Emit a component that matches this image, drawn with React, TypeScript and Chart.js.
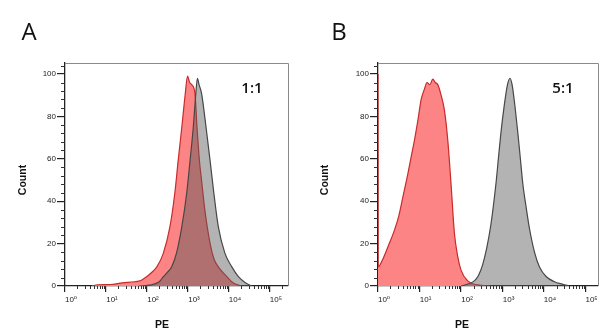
import React, { useEffect, useRef } from 'react';
import { Chart, registerables } from 'chart.js';

Chart.register(...registerables);

// ---- Axis ticks ----
const X_TICKS = [0, 1, 2, 3, 4, 5];
const X_TICK_LABELS = ['10⁰', '10¹', '10²', '10³', '10⁴', '10⁵'];
const X_MINOR_MULTIPLIERS = [2, 3, 4, 5, 6, 7, 8, 9];
const Y_TICKS = [0, 20, 40, 60, 80, 100];
const Y_MINOR_TICKS = [4, 8, 12, 16, 24, 28, 32, 36, 44, 48, 52, 56, 64, 68, 72, 76, 84, 88, 92, 96, 104];

// ---- Panel A (1:1) : x = log10(PE), y = Count ----
const A_GRAY_PE = [1.8, 2.1, 2.3, 2.4, 2.5, 2.6, 2.72, 2.85, 2.97, 3.05, 3.13, 3.18, 3.23, 3.27, 3.33, 3.44, 3.54, 3.63, 3.74, 3.9, 4.07, 4.23, 4.4, 4.55];
const A_GRAY_COUNT = [0, 0.5, 2, 4.4, 6.5, 9, 15.5, 28, 44, 59, 75, 88, 98, 95, 91, 75, 59, 44, 28, 15.5, 9, 4.4, 1.5, 0];
const A_RED_PE = [0.65, 0.8, 1.1, 1.4, 1.7, 1.85, 1.99, 2.12, 2.24, 2.4, 2.56, 2.68, 2.76, 2.85, 2.93, 2.99, 3.04, 3.09, 3.17, 3.22, 3.28, 3.33, 3.41, 3.54, 3.63, 3.74, 3.95, 4.1, 4.3];
const A_RED_COUNT = [0, 0.6, 0.7, 1.5, 2, 2.6, 4.4, 6.5, 9, 15.5, 28, 44, 59, 75, 90, 99, 96, 95, 91, 75, 59, 50, 36, 20, 13, 9, 4.4, 1.5, 0];

// ---- Panel B (5:1) ----
const B_GRAY_PE = [2.0, 2.15, 2.32, 2.42, 2.52, 2.62, 2.72, 2.84, 2.9, 2.96, 3.04, 3.12, 3.18, 3.23, 3.28, 3.37, 3.43, 3.49, 3.57, 3.65, 3.77, 3.89, 4.05, 4.25, 4.45, 4.6];
const B_GRAY_COUNT = [0, 0.8, 2.4, 5, 10, 18, 29, 48, 60, 72, 85, 95, 98, 95, 88, 72, 60, 48, 37, 27, 16, 9, 4.5, 2, 0.8, 0];
const B_RED_PE = [0, 0.005, 0.1, 0.25, 0.39, 0.5, 0.6, 0.72, 0.8, 0.88, 0.96, 1.04, 1.12, 1.18, 1.25, 1.32, 1.38, 1.44, 1.52, 1.6, 1.68, 1.76, 1.84, 1.92, 2.0, 2.16, 2.4, 2.7];
const B_RED_COUNT = [100, 9, 12, 19, 26, 33, 42, 53, 61, 69, 78, 88, 93, 96, 95, 97.6, 96, 95, 90, 83, 69, 48, 25, 14, 7.5, 2.4, 0.5, 0];

const FONT = "'Liberation Sans', 'DejaVu Sans', Arial, sans-serif";

type Panel = {
  letter: string;
  ratio: string;
  xMax: number;
  left: number;
  right: number;
  grayPE: number[];
  grayCount: number[];
  redPE: number[];
  redCount: number[];
};

const PANELS: Panel[] = [
  { letter: 'A', ratio: '1:1', xMax: 5.44, left: 65, right: 288, grayPE: A_GRAY_PE, grayCount: A_GRAY_COUNT, redPE: A_RED_PE, redCount: A_RED_COUNT },
  { letter: 'B', ratio: '5:1', xMax: 5.3, left: 78, right: 298, grayPE: B_GRAY_PE, grayCount: B_GRAY_COUNT, redPE: B_RED_PE, redCount: B_RED_COUNT },
];

const W = 300;
const H = 331;

function toPoints(xs: number[], ys: number[]) {
  return xs.map((x, i) => ({ x, y: ys[i] }));
}

function HistPanel({ panel }: { panel: Panel }) {
  const ref = useRef<HTMLCanvasElement | null>(null);
  useEffect(() => {
    if (!ref.current) return;
    const decor = {
      id: 'decor',
      afterDraw(chart: any) {
        const ctx = chart.ctx;
        const a = chart.chartArea;
        const xs = chart.scales.x;
        const ys = chart.scales.y;
        ctx.save();
        // box top + right
        ctx.strokeStyle = '#8a8a8a';
        ctx.lineWidth = 1;
        ctx.beginPath();
        ctx.moveTo(a.left, a.top + 0.5);
        ctx.lineTo(a.right + 0.5, a.top + 0.5);
        ctx.lineTo(a.right + 0.5, a.bottom);
        ctx.stroke();
        // minor ticks
        ctx.strokeStyle = '#333';
        ctx.beginPath();
        for (const d of X_TICKS) {
          for (const m of X_MINOR_MULTIPLIERS) {
            const v = d + Math.log10(m);
            if (v > panel.xMax) continue;
            const px = Math.round(xs.getPixelForValue(v)) + 0.5;
            ctx.moveTo(px, a.bottom);
            ctx.lineTo(px, a.bottom + 3);
          }
        }
        for (const v of Y_MINOR_TICKS) {
          if (v > ys.max) continue;
          const py = Math.round(ys.getPixelForValue(v)) + 0.5;
          ctx.moveTo(a.left - 4, py);
          ctx.lineTo(a.left, py);
        }
        ctx.stroke();
        // texts
        ctx.fillStyle = '#111';
        ctx.textAlign = 'center';
        ctx.textBaseline = 'middle';
        ctx.font = `24px 'Open Sans', ${FONT}`;
        ctx.fillText(panel.letter, panel.letter === 'A' ? 29 : 39, 33);
        ctx.font = `600 15px 'Open Sans', ${FONT}`;
        ctx.fillText(panel.ratio, panel.letter === 'A' ? 252 : 263, 89);
        ctx.font = `bold 10.5px ${FONT}`;
        ctx.fillText('PE', 162, 325);
        ctx.save();
        ctx.translate(panel.letter === 'A' ? 23 : 25, 180);
        ctx.rotate(-Math.PI / 2);
        ctx.fillText('Count', 0, 0);
        ctx.restore();
        ctx.restore();
      },
    };

    const chart = new Chart(ref.current, {
      type: 'line',
      data: {
        datasets: [
          {
            label: 'Stained',
            data: toPoints(panel.grayPE, panel.grayCount),
            borderColor: '#474747',
            backgroundColor: 'rgba(90,90,90,0.46)',
            fill: 'origin',
            borderWidth: 1.2,
            pointRadius: 0,
            cubicInterpolationMode: 'monotone',
            order: 0,
          },
          {
            label: 'Control',
            data: toPoints(panel.redPE, panel.redCount),
            borderColor: '#c92a2a',
            backgroundColor: 'rgb(252,132,132)',
            fill: 'origin',
            borderWidth: 1.2,
            pointRadius: 0,
            cubicInterpolationMode: 'monotone',
            order: 1,
          },
        ],
      },
      options: {
        animation: false,
        responsive: false,
        maintainAspectRatio: false,
        layout: { padding: { top: 63, right: W - panel.right, left: 0, bottom: 0 } },
        plugins: { legend: { display: false }, tooltip: { enabled: false }, title: { display: false } },
        scales: {
          x: {
            type: 'linear',
            min: 0,
            max: panel.xMax,
            afterFit: (s: any) => { s.height = H - 286; },
            afterBuildTicks: (s: any) => { s.ticks = X_TICKS.map((v) => ({ value: v })); },
            ticks: {
              callback: (_v: any, i: number) => X_TICK_LABELS[i],
              font: { size: 8, family: FONT },
              color: '#222',
              labelOffset: 6,
              padding: 3,
              maxRotation: 0,
              autoSkip: false,
            },
            grid: { drawOnChartArea: false, drawTicks: true, tickLength: 6, color: '#222', lineWidth: 1.2 },
            border: { color: '#222', width: 1.3 },
          },
          y: {
            type: 'linear',
            min: 0,
            max: 105.2,
            afterFit: (s: any) => { s.width = panel.left; },
            afterBuildTicks: (s: any) => { s.ticks = Y_TICKS.map((v) => ({ value: v })); },
            ticks: {
              callback: (v: any) => String(v),
              font: { size: 8, family: FONT },
              color: '#222',
              padding: 1,
            },
            grid: { drawOnChartArea: false, drawTicks: true, tickLength: 8, color: '#222', lineWidth: 1.2 },
            border: { color: '#222', width: 1.3 },
          },
        },
      },
      plugins: [decor],
    } as any);
    return () => chart.destroy();
  }, [panel]);
  return <canvas ref={ref} width={W} height={H} style={{ width: W, height: H, display: 'block' }} />;
}

export default function App() {
  return (
    <div style={{ position: 'absolute', left: 0, top: 0, width: 600, height: 331, display: 'flex', background: '#fff' }}>
      {PANELS.map((p) => (
        <HistPanel key={p.letter} panel={p} />
      ))}
    </div>
  );
}
